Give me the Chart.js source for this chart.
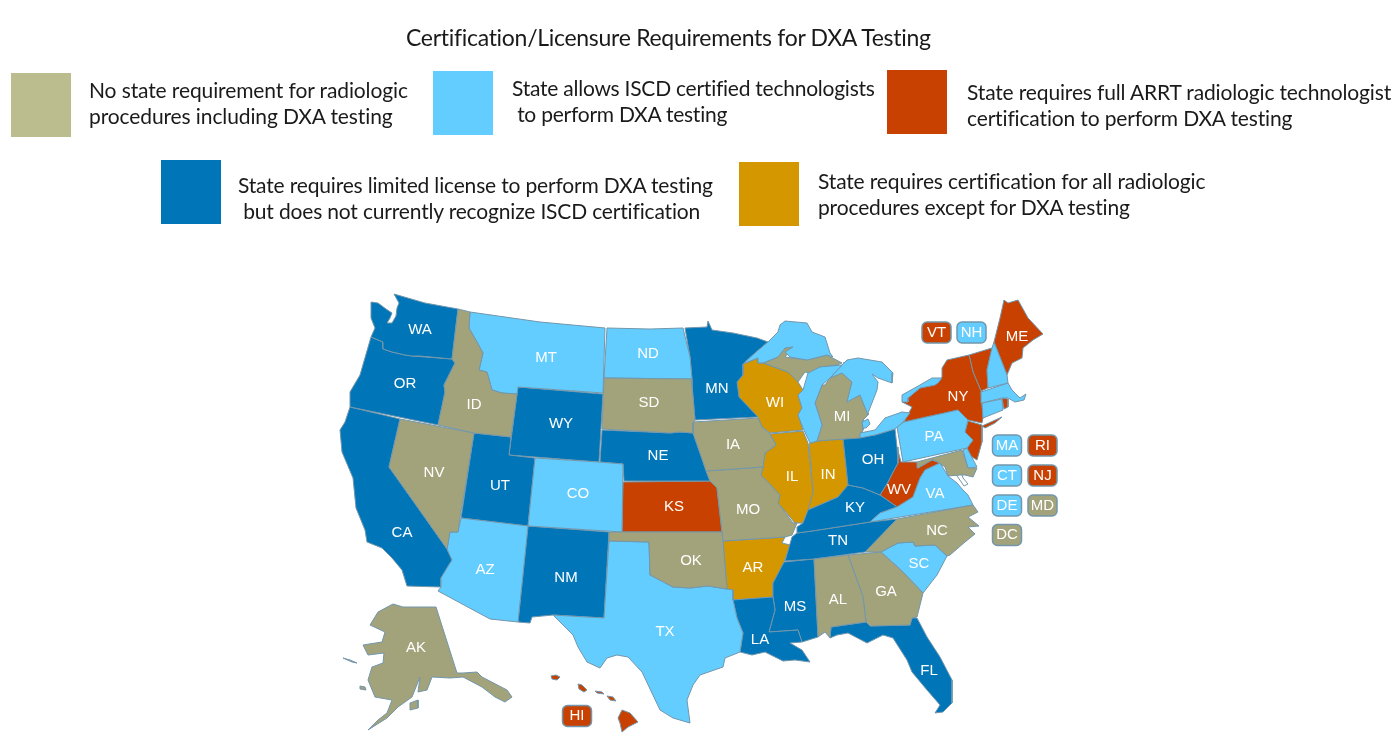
<!DOCTYPE html>
<html lang="en">
<head>
<meta charset="UTF-8">
<title>Certification/Licensure Requirements for DXA Testing</title>
<script src="https://cdn.jsdelivr.net/npm/chart.js"></script>
<style>
  body { margin: 0; background: #fff; width: 1398px; height: 754px; position: relative; overflow: hidden; }
  canvas { position: absolute; left: 0; top: 0; }
  .t { position: absolute; font-family: Lato, sans-serif; color: #1a1a1a; white-space: pre; font-size: 21px; line-height: 26px; }
  .sw { position: absolute; width: 60px; height: 64px; }
</style>
</head>
<body>
<canvas id="map" width="1398" height="754"></canvas>
<div class="t" style="left:406px;top:23px;font-size:23px;line-height:28px;letter-spacing:-0.29px">Certification/Licensure Requirements for DXA Testing</div>
<div class="sw" style="left:11px;top:73px;background:#bbbd8f"></div>
<div class="t" style="left:89px;top:77px;letter-spacing:-0.11px">No state requirement for radiologic
procedures including DXA testing</div>
<div class="sw" style="left:433px;top:71px;background:#63cdff"></div>
<div class="t" style="left:512px;top:75px;letter-spacing:-0.24px">State allows ISCD certified technologists
 to perform DXA testing</div>
<div class="sw" style="left:887px;top:70px;background:#c84100"></div>
<div class="t" style="left:967px;top:79px;letter-spacing:-0.15px">State requires full ARRT radiologic technologist
certification to perform DXA testing</div>
<div class="sw" style="left:161px;top:160px;background:#0075b8"></div>
<div class="t" style="left:238px;top:172px;letter-spacing:-0.17px">State requires limited license to perform DXA testing
 but does not currently recognize ISCD certification</div>
<div class="sw" style="left:739px;top:162px;background:#d49700"></div>
<div class="t" style="left:818px;top:168px;letter-spacing:-0.15px">State requires certification for all radiologic
procedures except for DXA testing</div>
<script>
// colours per requirement group
const groupColors = { none: '#a2a37b', iscd: '#63cdff', arrt: '#c84100', limited: '#0075b8', except: '#d49700' };
const edgeColor = '#7296ab';

// outlines (x, y in picture units)
const LAKE_SUP = [[743,364],[755,353],[768,342],[778,332],[780,325],[785,321],[807,323],[812,332],[825,337],[830,353],[833,357],[827,355],[807,360],[790,357],[785,352],[793,347],[785,348],[778,357],[763,363],[758,363],[758,358]];
const LAKE_MICH = [[798,395],[803,390],[808,373],[820,367],[842,365],[830,378],[822,385],[815,403],[822,425],[817,441],[810,443],[803,428],[798,415],[802,408]];
const LAKE_HUR = [[830,378],[842,365],[847,360],[858,358],[882,362],[893,373],[892,383],[878,378],[872,374],[878,382],[877,390],[868,413],[868,415],[860,395],[847,402],[852,382],[842,373]];
const LAKE_ERIE = [[860,433],[875,430],[885,418],[902,412],[910,413],[903,422],[895,429],[875,435],[860,438]];
const LAKE_CLAIR = [[863,428],[862,422],[868,419],[870,424],[866,428]];
const LAKE_ONT = [[902,395],[920,385],[932,378],[942,378],[938,383],[935,385],[920,388],[908,398],[908,402],[902,402]];

const WA = [[394,294],[425,303],[458,309],[452,359],[420,356],[412,356],[405,355],[392,352],[383,349],[383,342],[371,337],[375,328],[371,318],[371,302],[378,303],[386,309],[392,313],[390,318],[387,323],[392,323],[396,316],[397,308],[399,303]];
const OR = [[371,337],[383,342],[383,349],[392,352],[405,355],[412,356],[452,359],[455,363],[444,385],[445,392],[438,425],[350,407],[350,392],[360,375]];
const CA = [[350,407],[400,419],[389,467],[416,505],[447,549],[452,560],[447,568],[441,578],[441,587],[407,586],[402,570],[392,558],[382,548],[367,542],[365,530],[356,508],[353,478],[342,452],[340,430],[345,422]];
const NV = [[400,419],[474,433],[463,500],[460,518],[458,532],[450,532],[447,549],[416,505],[389,467]];
const ID = [[458,309],[470,312],[469,328],[477,342],[483,353],[479,370],[487,372],[492,390],[502,393],[517,394],[511,437],[474,433],[438,425],[445,392],[444,385],[455,363],[452,359]];
const MT = [[470,312],[540,322],[605,328],[603,393],[518,387],[517,394],[502,393],[492,390],[487,372],[479,370],[483,353],[477,342],[469,328]];
const WY = [[518,387],[603,394],[599,462],[509,455]];
const UT = [[474,433],[511,437],[509,455],[535,458],[528,526],[461,518]];
const CO = [[535,458],[599,462],[623,464],[622,532],[528,526]];
const AZ = [[461,518],[528,526],[518,622],[490,619],[438,591],[441,587],[441,578],[447,568],[452,560],[447,549],[450,532],[458,532]];
const NM = [[528,526],[609,532],[604,618],[553,615],[532,617],[530,623],[518,622]];
const ND = [[607,328],[650,329],[683,328],[690,357],[692,379],[604,378]];
const SD = [[604,378],[692,379],[692,385],[695,420],[693,423],[693,433],[680,432],[670,433],[602,429]];
const NE = [[602,430],[670,433],[680,432],[693,433],[700,453],[710,481],[624,481],[623,464],[600,462]];
const MN = [[685,328],[707,327],[708,321],[712,330],[733,333],[757,338],[768,342],[755,353],[743,364],[743,375],[737,382],[739,397],[758,417],[695,420],[692,385],[692,379],[690,357]];
const WI = [[743,364],[758,358],[758,363],[763,363],[788,372],[798,382],[803,390],[798,395],[802,408],[798,415],[803,430],[770,433],[762,427],[758,417],[739,397],[737,382],[743,375]];
const IA = [[693,422],[758,418],[762,427],[770,434],[776,445],[765,453],[763,467],[706,471],[700,453],[693,433]];
const IL = [[770,434],[803,431],[808,443],[813,492],[808,510],[803,523],[795,523],[778,503],[780,495],[761,475],[763,467],[765,453],[776,445]];
const IN = [[809,444],[817,441],[843,438],[848,486],[838,497],[808,510],[813,492]];
const KS = [[623,482],[710,481],[717,488],[722,532],[622,532]];
const MO = [[706,471],[763,467],[761,475],[780,495],[778,503],[793,523],[797,523],[792,535],[785,537],[723,541],[722,532],[717,488],[710,481]];
const OK = [[609,532],[722,532],[723,541],[727,589],[708,586],[690,588],[673,587],[650,575],[649,542],[609,541]];
const TX = [[609,541],[649,542],[650,575],[673,587],[690,588],[708,586],[727,589],[733,590],[733,600],[737,618],[743,633],[740,652],[725,658],[723,667],[700,675],[693,685],[687,700],[690,723],[673,718],[660,710],[642,672],[628,657],[617,655],[607,658],[600,668],[587,662],[578,647],[573,635],[558,620],[553,615],[604,618]];
const AR = [[723,541],[785,537],[782,543],[790,545],[784,562],[773,583],[773,597],[733,600],[733,590],[727,589]];
const LA = [[733,600],[773,597],[775,610],[769,632],[798,630],[802,642],[790,643],[802,650],[810,662],[795,660],[783,661],[765,652],[752,655],[740,652],[743,633],[737,618]];
const MS = [[784,562],[814,559],[818,637],[802,642],[798,630],[769,632],[775,610],[773,597],[773,583]];
const AL = [[814,559],[848,555],[863,597],[866,622],[831,627],[830,638],[825,632],[818,637]];
const GA = [[848,555],[881,552],[903,572],[923,593],[917,617],[912,618],[910,625],[870,626],[866,622],[863,597]];
const FL = [[831,627],[866,622],[870,626],[910,625],[912,618],[917,618],[927,637],[940,657],[952,680],[952,703],[943,712],[935,713],[940,705],[927,690],[912,672],[907,660],[893,638],[883,635],[867,643],[848,633],[837,635],[830,638]];
const SC = [[881,552],[898,543],[913,542],[915,546],[935,545],[947,556],[937,575],[923,593],[903,572]];
const NC = [[865,552],[897,519],[973,505],[978,512],[968,517],[979,526],[968,527],[975,534],[965,542],[950,555],[947,556],[935,545],[915,546],[913,542],[898,543],[881,552]];
const TN = [[785,561],[792,537],[797,533],[812,531],[870,522],[897,519],[882,535],[865,552],[814,559]];
const KY = [[808,510],[838,497],[848,485],[863,488],[880,495],[897,507],[880,513],[870,522],[812,531],[797,533],[797,527],[803,523]];
const OH = [[843,438],[860,436],[875,435],[895,429],[897,447],[898,463],[893,472],[888,482],[880,495],[863,488],[848,485]];
const PA = [[897,427],[904,422],[958,410],[968,420],[965,432],[973,440],[967,448],[903,462]];
const WV = [[897,447],[901,462],[917,462],[918,468],[932,460],[940,463],[925,470],[920,478],[913,497],[897,507],[880,495],[888,482],[893,472],[898,463]];
const VA = [[897,507],[913,497],[920,478],[925,470],[940,463],[948,476],[957,483],[963,490],[968,495],[973,505],[870,522],[880,513]];
const MD = [[917,462],[962,450],[968,468],[977,468],[973,477],[965,475],[960,475],[948,476],[945,467],[935,460],[932,460],[918,468]];
const DE = [[963,450],[967,448],[977,467],[968,468]];
const NJ = [[968,421],[982,425],[982,442],[977,460],[969,455],[967,448],[973,440],[965,432]];
const NY = [[947,360],[969,355],[973,372],[981,391],[983,418],[982,423],[968,420],[958,410],[904,422],[912,407],[902,402],[908,398],[920,388],[935,385],[942,377],[942,368]];
const NY_LI = [[982,426],[1002,417],[995,423],[985,428]];
const VT = [[969,355],[992,348],[987,370],[988,388],[981,391],[973,372]];
const NH = [[992,348],[994,342],[1007,375],[1008,383],[988,388],[987,370]];
const ME = [[994,342],[1000,318],[1004,300],[1008,303],[1018,300],[1028,318],[1043,334],[1033,340],[1023,348],[1022,358],[1012,363],[1007,375]];
const MA = [[981,392],[1008,383],[1012,390],[1020,398],[1026,394],[1024,400],[1015,402],[1008,398],[1002,398],[982,403]];
const CT = [[982,403],[1002,399],[1003,410],[983,418]];
const RI = [[1002,398],[1008,399],[1008,407],[1004,409]];
const MI_UP = [[763,363],[778,357],[785,348],[793,347],[785,357],[807,360],[827,355],[842,363],[837,365],[820,367],[810,373],[805,372],[798,382],[788,372]];
const MI_LOW = [[832,370],[842,373],[852,382],[847,402],[860,395],[868,415],[863,420],[863,430],[860,438],[817,441],[822,425],[815,403],[822,385],[825,385],[830,378]];
const AK = [[393,604],[403,607],[436,607],[457,673],[463,673],[477,672],[482,677],[507,690],[512,697],[505,702],[495,697],[482,687],[463,677],[450,678],[432,677],[427,690],[418,692],[420,677],[412,697],[398,707],[387,718],[368,730],[378,720],[387,713],[392,700],[375,697],[368,680],[372,667],[383,663],[384,653],[368,655],[363,645],[382,642],[385,632],[370,625],[378,612]];
const AK_ALEUT = [[343,658],[350,660],[357,663],[352,662]];
const AK_KOD = [[410,703],[418,700],[418,708],[410,710]];
const AK_NUN = [[360,686],[365,687],[366,690],[360,689]];
const HI_KAU = [[551,676],[556,675],[560,677],[557,680],[552,679]];
const HI_OAH = [[578,684],[582,685],[587,690],[584,692],[579,689]];
const HI_MOL = [[595,691],[602,692],[604,694],[597,693]];
const HI_MAU = [[607,696],[613,697],[616,701],[610,700]];
const HI_BIG = [[618,718],[622,710],[630,713],[638,722],[628,727],[622,732],[620,723]];
// water cut into the land
const BAY = [[958,455],[963,463],[960,468],[963,478],[968,484],[964,486],[955,473],[956,460]];
const ISLE = [[843,363],[867,362],[870,367],[867,370],[853,367]];
const ROYALE = [[774,340],[783,335],[783,337],[776,342]];

const lakes = [LAKE_SUP, LAKE_MICH, LAKE_HUR, LAKE_ERIE, LAKE_CLAIR, LAKE_ONT];
const noneStates = [ID, NV, SD, IA, MO, OK, NC, AL, GA, MI_UP, MI_LOW, MD, AK, AK_ALEUT, AK_KOD, AK_NUN];
const iscdStates = [MT, ND, CO, AZ, TX, PA, VA, SC, NH, MA, CT, DE];
const arrtStates = [KS, NY, NY_LI, NJ, VT, ME, RI, WV, HI_KAU, HI_OAH, HI_MOL, HI_MAU, HI_BIG];
const limitedStates = [WA, OR, CA, UT, WY, NM, NE, MN, OH, KY, TN, LA, MS, FL];
const exceptStates = [WI, IL, IN, AR];
const water = [BAY, ISLE];

// labels on the map
const mapCodes = ['WA','OR','ID','MT','ND','MN','WI','SD','WY','NV','UT','CO','NE','IA','IL','IN','OH','PA','NY','ME','MI','VA','WV','KY','KS','MO','CA','AZ','NM','OK','AR','TN','NC','SC','MS','AL','GA','LA','TX','FL','AK'];
const mapX = [420,405,474,546,648,717,775,649,561,434,500,578,658,733,792,828,873,934,958,1017,842,935,899,855,674,748,402,485,566,691,753,838,937,919,795,838,886,760,665,929,416];
const mapY = [330,384,405,358,354,389,403,403,424,473,486,494,456,445,477,475,460,437,397,337,417,494,490,508,507,510,533,570,578,561,568,541,531,564,607,600,592,640,632,671,648];

// small states listed beside the map
const badgeCodes = ['VT','NH','MA','RI','CT','NJ','DE','MD','DC','HI'];
const badgeX = [936.5,971.5,1007,1042.5,1007,1042.5,1007,1042.5,1007,577];
const badgeY = [332.5,332.5,445.5,445.5,475.5,475.5,505.5,505.5,535,716];
const badgeGroup = ['arrt','iscd','iscd','arrt','iscd','arrt','iscd','none','none','arrt'];

function closed(outline) {
  const pts = outline.map(p => ({ x: p[0], y: p[1] }));
  pts.push(pts[0]);
  return pts;
}

function shape(outline, color, edge) {
  return {
    data: closed(outline),
    showLine: true,
    fill: 'shape',
    backgroundColor: color,
    borderColor: edge,
    borderWidth: 1,
    pointRadius: 0,
    pointHoverRadius: 0,
    tension: 0,
    clip: false
  };
}

const datasets = [];
lakes.forEach(o => datasets.push(shape(o, groupColors.iscd, edgeColor)));
noneStates.forEach(o => datasets.push(shape(o, groupColors.none, edgeColor)));
iscdStates.forEach(o => datasets.push(shape(o, groupColors.iscd, edgeColor)));
limitedStates.forEach(o => datasets.push(shape(o, groupColors.limited, edgeColor)));
exceptStates.forEach(o => datasets.push(shape(o, groupColors.except, edgeColor)));
arrtStates.forEach(o => datasets.push(shape(o, groupColors.arrt, edgeColor)));
water.forEach(o => datasets.push(shape(o, '#ffffff', edgeColor)));
datasets.push(shape(ROYALE, groupColors.none, edgeColor));

// writes the state codes and the rounded boxes through the chart's scales
const mapLabels = {
  id: 'mapLabels',
  afterDatasetsDraw(chart) {
    const { ctx, scales } = chart;
    ctx.save();
    ctx.font = '15px "Liberation Sans", Arial, sans-serif';
    ctx.textAlign = 'center';
    ctx.textBaseline = 'middle';
    ctx.fillStyle = '#ffffff';
    mapCodes.forEach((code, i) => {
      ctx.fillText(code, scales.x.getPixelForValue(mapX[i]), scales.y.getPixelForValue(mapY[i]));
    });
    badgeCodes.forEach((code, i) => {
      const x = scales.x.getPixelForValue(badgeX[i]);
      const y = scales.y.getPixelForValue(badgeY[i]);
      ctx.beginPath();
      ctx.roundRect(x - 14.5, y - 10.5, 29, 21, 5);
      ctx.fillStyle = groupColors[badgeGroup[i]];
      ctx.fill();
      ctx.strokeStyle = edgeColor;
      ctx.lineWidth = 1.5;
      ctx.stroke();
      ctx.fillStyle = '#ffffff';
      ctx.fillText(code, x, y);
    });
    ctx.restore();
  }
};

new Chart(document.getElementById('map'), {
  type: 'scatter',
  data: { datasets },
  options: {
    responsive: false,
    animation: false,
    events: [],
    layout: { padding: 0 },
    plugins: { legend: { display: false }, tooltip: { enabled: false } },
    scales: {
      x: { type: 'linear', min: 0, max: 1398, display: false },
      y: { type: 'linear', min: 0, max: 754, reverse: true, display: false }
    }
  },
  plugins: [mapLabels]
});
</script>
</body>
</html>
